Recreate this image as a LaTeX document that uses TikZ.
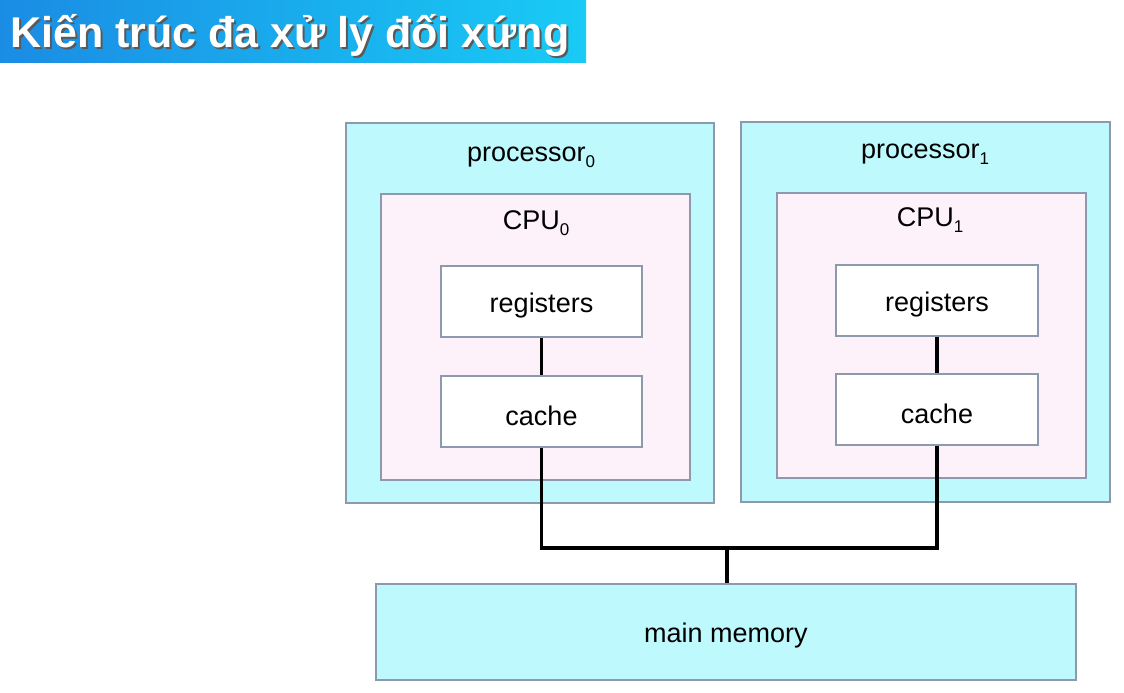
\documentclass[tikz,border=0pt]{standalone}
\usepackage{fontspec}
\setmainfont{Liberation Sans}
\definecolor{cyanfill}{HTML}{BEF9FD}
\definecolor{pinkfill}{HTML}{FDF1FA}
\definecolor{edgegray}{HTML}{8D9AAE}
\definecolor{titleL}{HTML}{1A8CE4}
\definecolor{titleR}{HTML}{19CBF5}
\newcommand\subnum[1]{\raisebox{-0.4ex}{\fontsize{17}{17}\selectfont #1}}
\newcommand\lowered[1]{\raisebox{-4pt}[\height][\depth]{#1}}
\tikzset{
  boxbase/.style={draw=edgegray, line width=1.8pt, inner sep=0pt},
  procbox/.style={boxbase, fill=cyanfill},
  cpubox/.style={boxbase, fill=pinkfill},
  unitbox/.style={boxbase, fill=white, font=\fontsize{27}{32}\selectfont},
  lbl/.style={inner sep=0pt, font=\fontsize{27}{32}\selectfont},
  wire/.style={line width=3.4pt, black}
}
\begin{document}
\begin{tikzpicture}[x=1pt,y=-1pt]
\useasboundingbox[fill=white] (0,0) rectangle (1124,693);
\shade[left color=titleL, right color=titleR] (0,0) rectangle (586,63);
\node[inner sep=0pt, anchor=base west, text=black!65, font=\fontsize{43}{48}\selectfont\bfseries] (tshadow) at (12,50) {Kiến trúc đa xử lý đối xứng};
\node[inner sep=0pt, anchor=base west, text=white, font=\fontsize{43}{48}\selectfont\bfseries] (title) at (10,48) {Kiến trúc đa xử lý đối xứng};

\node[procbox, minimum width=368pt, minimum height=380pt] (p0) at (530,313) {};
\node[procbox, minimum width=369pt, minimum height=380pt] (p1) at (925.5,312) {};
\node[cpubox, minimum width=309pt, minimum height=286pt] (c0) at (535.5,337) {};
\node[cpubox, minimum width=309pt, minimum height=285pt] (c1) at (931.5,335.5) {};

\node[lbl] (p0l) at (531,157) {processor\subnum{0}};
\node[lbl] (p1l) at (925,154) {processor\subnum{1}};
\node[lbl] (c0l) at (536,223) {CPU\subnum{0}};
\node[lbl] (c1l) at (930,220) {CPU\subnum{1}};

\node[unitbox, minimum width=201pt, minimum height=71pt] (r0) at (541.5,301.5) {\lowered{registers}};
\node[unitbox, minimum width=202pt, minimum height=71pt] (r1) at (937,300.5) {\lowered{registers}};
\node[unitbox, minimum width=201pt, minimum height=71pt] (k0) at (541.5,411.5) {\lowered{cache}};
\node[unitbox, minimum width=202pt, minimum height=71pt] (k1) at (937,409.5) {\lowered{cache}};

\node[procbox, minimum width=700pt, minimum height=96pt, font=\fontsize{27}{32}\selectfont] (mm) at (726,632) {\lowered{main memory}};

\coordinate (bus) at (727,548);
\draw[wire] (r0.south) -- (k0.north);
\draw[wire] (r1.south) -- (k1.north);
\draw[wire] (k0.south) |- (bus) -| (k1.south);
\draw[wire] (bus) -- (bus |- mm.north);
\end{tikzpicture}
\end{document}
